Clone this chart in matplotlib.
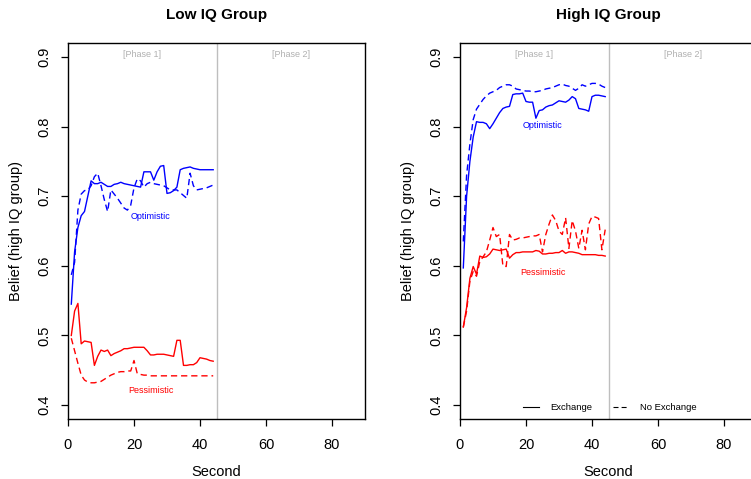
import matplotlib
matplotlib.use("Agg")
import matplotlib.pyplot as plt
from matplotlib.lines import Line2D

plt.rcParams['font.family'] = ['Liberation Sans', 'DejaVu Sans']

# seconds 1..44
seconds = list(range(1, 45))

# Low IQ group
low_opt_ex = [0.545, 0.620, 0.655, 0.672, 0.678, 0.700, 0.722, 0.718, 0.718, 0.720,
              0.717, 0.714, 0.714, 0.717, 0.718, 0.720, 0.718, 0.717, 0.716, 0.715,
              0.714, 0.713, 0.735, 0.735, 0.735, 0.723, 0.735, 0.743, 0.744, 0.704,
              0.705, 0.708, 0.713, 0.738, 0.740, 0.741, 0.742, 0.740, 0.739, 0.738,
              0.738, 0.738, 0.738, 0.738]
low_opt_noex = [0.587, 0.605, 0.680, 0.703, 0.708, 0.709, 0.715, 0.728, 0.733, 0.715,
                0.695, 0.678, 0.709, 0.703, 0.697, 0.690, 0.683, 0.680, 0.687, 0.712,
                0.725, 0.722, 0.713, 0.718, 0.720, 0.718, 0.717, 0.716, 0.715, 0.712,
                0.709, 0.709, 0.709, 0.705, 0.701, 0.697, 0.733, 0.715, 0.709, 0.710,
                0.711, 0.712, 0.714, 0.716]
low_pes_ex = [0.500, 0.535, 0.546, 0.488, 0.492, 0.491, 0.490, 0.457, 0.470, 0.479,
              0.477, 0.479, 0.471, 0.474, 0.476, 0.478, 0.481, 0.481, 0.482, 0.483,
              0.483, 0.483, 0.483, 0.478, 0.472, 0.472, 0.473, 0.473, 0.473, 0.472,
              0.471, 0.470, 0.493, 0.493, 0.457, 0.457, 0.458, 0.458, 0.461, 0.468,
              0.467, 0.466, 0.464, 0.463]
low_pes_noex = [0.496, 0.478, 0.460, 0.443, 0.436, 0.433, 0.432, 0.432, 0.433, 0.434,
                0.437, 0.440, 0.443, 0.445, 0.447, 0.448, 0.448, 0.449, 0.449, 0.464,
                0.445, 0.444, 0.443, 0.443, 0.442, 0.442, 0.442, 0.442, 0.442, 0.442,
                0.442, 0.442, 0.442, 0.442, 0.442, 0.442, 0.442, 0.442, 0.442, 0.442,
                0.442, 0.442, 0.442, 0.442]

# High IQ group
high_opt_ex = [0.597, 0.700, 0.750, 0.785, 0.807, 0.806, 0.806, 0.804, 0.797, 0.804,
               0.812, 0.820, 0.826, 0.828, 0.829, 0.846, 0.847, 0.847, 0.848, 0.836,
               0.835, 0.835, 0.812, 0.823, 0.824, 0.828, 0.830, 0.831, 0.834, 0.837,
               0.836, 0.835, 0.838, 0.843, 0.840, 0.826, 0.825, 0.824, 0.822, 0.843,
               0.845, 0.845, 0.844, 0.843]
high_opt_noex = [0.635, 0.730, 0.775, 0.810, 0.825, 0.832, 0.839, 0.844, 0.848, 0.850,
                 0.852, 0.856, 0.858, 0.860, 0.860, 0.858, 0.854, 0.853, 0.852, 0.851,
                 0.851, 0.850, 0.850, 0.851, 0.852, 0.854, 0.855, 0.856, 0.858, 0.860,
                 0.861, 0.859, 0.858, 0.855, 0.852, 0.855, 0.860, 0.858, 0.860, 0.862,
                 0.862, 0.861, 0.858, 0.856]
high_pes_ex = [0.512, 0.540, 0.582, 0.599, 0.588, 0.614, 0.612, 0.613, 0.617, 0.624,
               0.623, 0.622, 0.623, 0.624, 0.611, 0.616, 0.619, 0.619, 0.620, 0.620,
               0.620, 0.620, 0.622, 0.621, 0.617, 0.617, 0.618, 0.618, 0.619, 0.619,
               0.622, 0.618, 0.620, 0.620, 0.619, 0.618, 0.616, 0.616, 0.616, 0.616,
               0.616, 0.615, 0.615, 0.614]
high_pes_noex = [0.512, 0.535, 0.578, 0.592, 0.585, 0.606, 0.613, 0.620, 0.637, 0.655,
                 0.642, 0.645, 0.600, 0.599, 0.645, 0.637, 0.638, 0.640, 0.640, 0.641,
                 0.642, 0.643, 0.643, 0.645, 0.620, 0.645, 0.660, 0.673, 0.665, 0.650,
                 0.645, 0.669, 0.625, 0.665, 0.650, 0.625, 0.651, 0.623, 0.660, 0.671,
                 0.670, 0.668, 0.623, 0.652]

titles = ["Low IQ Group", "High IQ Group"]
phase_labels = ["[Phase 1]", "[Phase 2]"]
xticks = [0, 20, 40, 60, 80]
yticks = [0.4, 0.5, 0.6, 0.7, 0.8, 0.9]

BLUE = "#0000FF"
RED = "#FF0000"
DASH = (0, (4.5, 2.8))

fig = plt.figure(figsize=(7.51, 4.79), dpi=100)
ax1 = fig.add_axes([68/751, 1-419/479, 297/751, 376/479])
ax2 = fig.add_axes([460/751, 1-419/479, 297/751, 376/479])

panels = [
    (ax1, low_opt_ex, low_opt_noex, low_pes_ex, low_pes_noex, (25, 0.671), (25, 0.421)),
    (ax2, high_opt_ex, high_opt_noex, high_pes_ex, high_pes_noex, (25, 0.802), (25, 0.591)),
]

for i, (ax, oe, on, pe, pn, opt_pos, pes_pos) in enumerate(panels):
    ax.axvline(45, color="#BEBEBE", lw=1.0, zorder=1)
    ax.plot(seconds, oe, color=BLUE, lw=1.0)
    ax.plot(seconds, on, color=BLUE, lw=1.0, linestyle=DASH)
    ax.plot(seconds, pe, color=RED, lw=1.0)
    ax.plot(seconds, pn, color=RED, lw=1.0, linestyle=DASH)

    ax.text(opt_pos[0], opt_pos[1], "Optimistic", color=BLUE, fontsize=6.5,
            ha="center", va="center")
    ax.text(pes_pos[0], pes_pos[1], "Pessimistic", color=RED, fontsize=6.5,
            ha="center", va="center")
    ax.text(22.5, 0.903, phase_labels[0], color="#B0B0B0", fontsize=6.5,
            ha="center", va="center")
    ax.text(67.5, 0.903, phase_labels[1], color="#B0B0B0", fontsize=6.5,
            ha="center", va="center")

    ax.set_xlim(0, 90)
    ax.set_ylim(0.38, 0.92)
    ax.set_xticks(xticks)
    ax.set_yticks(yticks)
    ax.set_yticklabels([str(v) for v in yticks], rotation=90, va="center")
    ax.tick_params(direction="out", length=5, width=0.9, labelsize=10.5)
    ax.tick_params(axis="x", pad=9)
    ax.tick_params(axis="y", pad=7)
    for sp in ax.spines.values():
        sp.set_linewidth(1.0)
    ax.set_title(titles[i], fontsize=11, fontweight="bold", pad=17)
    ax.set_xlabel("Second", fontsize=10.5, labelpad=9)
    ax.set_ylabel("Belief (high IQ group)", fontsize=10.5, labelpad=10)

handles = [Line2D([], [], color="black", lw=0.8),
           Line2D([], [], color="black", lw=0.8, linestyle=DASH)]
ax2.legend(handles, ["Exchange", "No Exchange"], loc="center", bbox_to_anchor=(0.505, 0.03),
           ncol=2, frameon=False, fontsize=6.8, handlelength=1.7, columnspacing=2.2,
           handletextpad=1.2)

fig.savefig("out.png", dpi=100)
